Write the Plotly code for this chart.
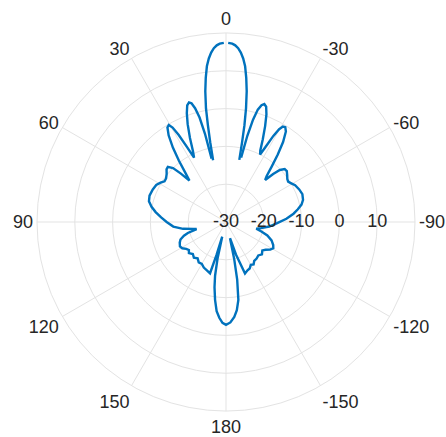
import plotly.graph_objects as go

# Angular tick labels (0 at top, counter-clockwise)
ang_vals = [0, 30, 60, 90, 120, 150, 180, 210, 240, 270, 300, 330]
ang_text = ["0", "30", "60", "90", "120", "150", "180", "-150", "-120", "-90", "-60", "-30"]

# Radial tick labels (dB)
rad_vals = [-30, -20, -10, 0, 10]
rad_text = ["-30", "-20", "-10", "0", "10"]

# Pattern, left half (positive angles); None = null below -30 dB
theta_pos = [0.7, 2, 3, 4, 5, 6, 7, 8, 9, 10, 10.6, 11.2, 11.8, 12.3,
             12.8, 13.4, 14.2, 15.2, 16.2, 17.2, 18.4, 19.8, 21.4, 23.2, 25, 26.4,
             27.5, 28.5, 29.5, 30.5, 31.8, 33.5, 35.5, 37.5, 39.5, 41.5,
             43, 44.5, 46.5, 48.5, 51, 54, 56.5,
             59, 62, 66, 71, 75, 78.5, 82, 86, 90, 95, 99, 102, 103.5,
             106, 108, 111, 114, 118, 121, 124, 127, 130, 134, 138, 142, 146, 150, 154, 158, 162.7,
             164, 165.5, 167, 168.5, 170, 172, 174, 176, 178, 180]
r_pos = [17.4, 17.2, 16.8, 16.1, 15.0, 13.5, 11.5, 8.5, 5.0, 0.5, -4, -8.5, -13.3, None,
         -12.8, -6, -1.5, 1.2, 2.7, 3.1, 2.5, 0.6, -2.2, -5.8, -9.3, -11,
         -7.5, -3.8, -1.3, -0.2, -0.6, -2.5, -5.8, -9.5, -13, -15.4,
         -12.5, -10, -8.8, -9, -9.8, -10.4, -10.5,
         -9.8, -9.1, -8.8, -8.6, -8.9, -9.9, -11.2, -12.8, -14.3, -16, -18.5, -21.2, -22,
         -19.5, -18.3, -17.1, -16.6, -16.2, -16.5, -17.3, -17.7, -17.2, -17.8, -17.3, -17.8, -17.1, -17.2, -16.6, -16.3, -15.8,
         -21, -26, -20, -15.5, -12.5, -9.2, -6.3, -4.6, -3.3, -2.8]

# Pattern, right half (negative angles)
theta_neg = [-0.7, -2, -3, -4, -5, -6, -7, -8, -9, -10, -10.8, -11.4, -12.1, -12.6,
             -13.2, -13.9, -14.8, -15.8, -16.9, -18, -19.2, -20.6, -22.2, -24, -25.6, -26.8,
             -27.8, -28.8, -29.8, -30.8, -32, -33.5, -35.5, -37.5, -39.5, -41.5, -43,
             -44.5, -46, -48, -50, -52.5, -55, -57,
             -59, -62, -66, -70, -74, -77, -80, -83, -87, -91.5, -96, -100, -102.5,
             -105, -108, -112, -116, -119, -122, -125, -128, -132, -136, -140, -144, -147, -150, -153, -156, -159.7,
             -163, -166, -167.5, -169, -171, -173, -175, -177.5, -180]
r_neg = [17.4, 17.2, 16.8, 16.1, 15.0, 13.5, 11.5, 8.5, 5.0, 0.5, -4, -8.5, -13.2, None,
         -12.5, -6.5, -2, 0.9, 2.3, 2.8, 2.3, 0.4, -2.6, -6.1, -9, -10,
         -7.5, -4, -1.7, -0.6, -0.4, -1.3, -4, -7.5, -11, -13.8, -14.8,
         -12.2, -10.2, -9.1, -9, -9.6, -10.2, -10.4,
         -10, -9.3, -8.8, -8.5, -8.8, -9.5, -10.7, -12, -14, -16.6, -18.5, -20.6, -21.8,
         -20.3, -18.5, -17, -16.1, -15.7, -16.2, -17.2, -17.8, -17.2, -17.7, -17.4, -17.3, -16.6, -16.9, -16.2, -16.0, -15.5,
         -21, -25.6, -20, -14.5, -9.1, -6.5, -4.8, -3.4, -2.8]

theta = theta_pos + theta_neg[::-1]
r = r_pos + r_neg[::-1]

FONT = "Liberation Sans, Arial, Helvetica, sans-serif"
GRID = "#e3e3e3"

fig = go.Figure()
fig.add_trace(go.Scatterpolar(
    theta=theta, r=r, mode="lines",
    line=dict(color="#0072BD", width=2.4),
    connectgaps=False, showlegend=False, hoverinfo="skip"))
fig.add_trace(go.Scatterpolar(
    theta=[-90] * len(rad_vals), r=rad_vals, mode="text",
    text=rad_text, textposition="middle center",
    textfont=dict(family=FONT, size=18, color="#262626"),
    cliponaxis=False, showlegend=False, hoverinfo="skip"))

fig.update_layout(
    width=446, height=437,
    margin=dict(l=37, r=31, t=33, b=26),
    paper_bgcolor="white",
    polar=dict(
        domain=dict(x=[0, 1], y=[0, 1]),
        bgcolor="white",
        angularaxis=dict(
            rotation=90, direction="counterclockwise",
            tickmode="array", tickvals=ang_vals, ticktext=ang_text,
            showgrid=True, gridcolor=GRID, gridwidth=1,
            showline=True, linecolor=GRID, linewidth=1,
            ticks="", tickfont=dict(family=FONT, size=18, color="#262626")),
        radialaxis=dict(
            range=[-30, 20], tickmode="array", tickvals=[-30, -20, -10, 0, 10, 20],
            showticklabels=False, showline=False, ticks="",
            showgrid=True, gridcolor=GRID, gridwidth=1, angle=0)),
)

fig.write_html("out.html", config={"displayModeBar": False},
               post_script="document.body.style.margin='0px';")
